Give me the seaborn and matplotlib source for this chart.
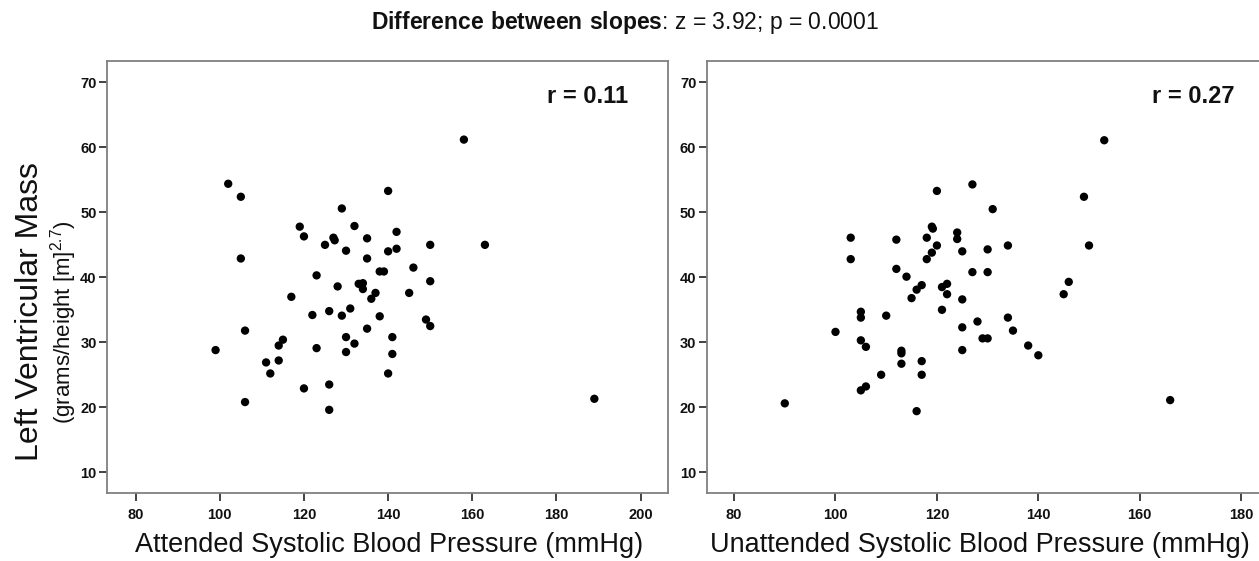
import matplotlib
matplotlib.use("Agg")
import matplotlib.pyplot as plt
import seaborn as sns
import pandas as pd

# Attended SBP vs LV mass index
attended_sbp = [102, 105, 105, 106, 99, 106, 117, 115, 114, 114,
                111, 112, 120, 119, 120, 123, 122, 123, 125, 127,
                127.3, 126, 126, 126, 128, 129, 130, 129, 130, 130,
                131, 132, 132, 133, 134, 134, 135, 135, 135, 136,
                137, 138, 139, 138, 140, 140, 140, 141, 141, 142,
                142, 150, 163, 146, 150, 145, 149, 150, 158, 189]
attended_lvm = [54.4, 52.4, 42.9, 31.8, 28.8, 20.8, 37.0, 30.4, 29.5, 27.2,
                26.9, 25.2, 22.9, 47.8, 46.3, 40.3, 34.2, 29.1, 45.0, 46.1,
                45.7, 34.8, 23.5, 19.6, 38.6, 50.6, 44.1, 34.1, 30.8, 28.5,
                35.2, 47.9, 29.8, 39.0, 39.1, 38.2, 46.0, 42.9, 32.1, 36.7,
                37.6, 40.9, 40.9, 34.0, 53.3, 44.0, 25.2, 30.8, 28.2, 47.0,
                44.4, 45.0, 45.0, 41.5, 39.4, 37.6, 33.5, 32.5, 61.2, 21.3]

# Unattended SBP vs LV mass index
unattended_sbp = [90, 100, 103, 103, 105, 105, 105, 106, 105, 106,
                  109, 110, 112, 112, 113, 113, 113, 114, 115, 116,
                  117, 117, 117, 116, 118, 118, 119, 119.2, 119, 120,
                  120, 121, 122, 122, 121, 124, 124, 125, 125, 125,
                  125, 127, 127, 128, 129, 130, 130, 130, 131, 134,
                  134, 135, 138, 140, 145, 146, 149, 150, 153, 166]
unattended_lvm = [20.6, 31.6, 46.1, 42.8, 34.7, 33.8, 30.3, 29.3, 22.6, 23.2,
                  25.0, 34.1, 45.8, 41.3, 28.7, 28.3, 26.7, 40.1, 36.8, 38.1,
                  38.8, 27.1, 25.0, 19.4, 46.1, 42.8, 47.8, 47.5, 43.8, 53.3,
                  44.9, 38.5, 39.0, 37.4, 35.0, 46.9, 45.9, 44.0, 36.6, 32.3,
                  28.8, 54.3, 40.8, 33.2, 30.6, 30.6, 44.3, 40.8, 50.5, 44.9,
                  33.8, 31.8, 29.5, 28.0, 37.4, 39.3, 52.4, 44.9, 61.1, 21.1]

r_values = ["r = 0.11", "r = 0.27"]
x_labels = ["Attended Systolic Blood Pressure (mmHg)",
            "Unattended Systolic Blood Pressure (mmHg)"]
x_ticks = [[80, 100, 120, 140, 160, 180, 200], [80, 100, 120, 140, 160, 180]]
y_ticks = [10, 20, 30, 40, 50, 60, 70]

sns.set_theme(style="ticks")
plt.rcParams['font.family'] = ['Liberation Sans', 'DejaVu Sans']
plt.rcParams['mathtext.fontset'] = 'custom'
plt.rcParams['mathtext.rm'] = 'Liberation Sans'
plt.rcParams['mathtext.bf'] = 'Liberation Sans:bold'
plt.rcParams['xtick.bottom'] = True
plt.rcParams['ytick.left'] = True
plt.rcParams['xtick.major.size'] = 6
plt.rcParams['ytick.major.size'] = 6
plt.rcParams['xtick.major.width'] = 1.2
plt.rcParams['ytick.major.width'] = 1.2
plt.rcParams['xtick.color'] = '#222222'
plt.rcParams['ytick.color'] = '#222222'

W, H = 1259, 561
fig = plt.figure(figsize=(W / 100, H / 100), dpi=100)
ax1 = fig.add_axes([107 / W, 68 / H, 561 / W, 432 / H])
ax2 = fig.add_axes([706.7 / W, 68 / H, (1266 - 706.7) / W, 432 / H])

df1 = pd.DataFrame({'sbp': attended_sbp, 'lvm': attended_lvm})
df2 = pd.DataFrame({'sbp': unattended_sbp, 'lvm': unattended_lvm})

xlims = [(73.2, 206.5), (74.6, 184.9)]
r_pos = [0.856, 0.8695]
xlabel_x = [389, 980]

for i, (ax, df) in enumerate([(ax1, df1), (ax2, df2)]):
    sns.scatterplot(data=df, x='sbp', y='lvm', ax=ax, color='black',
                    s=36, edgecolor='none', linewidth=0)
    ax.set_xlim(*xlims[i])
    ax.set_ylim(6.8, 73.3)
    ax.set_xticks(x_ticks[i])
    ax.set_yticks(y_ticks)
    ax.tick_params(axis='both', labelsize=10.5, pad=1.5, labelcolor='#111111')
    ax.tick_params(axis='x', pad=5)
    for lab in ax.get_xticklabels() + ax.get_yticklabels():
        lab.set_fontweight('bold')
    for sp in ax.spines.values():
        sp.set_visible(True)
        sp.set_color('#808080')
        sp.set_linewidth(1.3)
    ax.set_xlabel('')
    ax.set_ylabel('')
    ax.text(r_pos[i], 0.917, r_values[i], transform=ax.transAxes,
            ha='center', va='center', fontsize=17, fontweight='bold',
            color='#111111')
    fig.text(xlabel_x[i] / W, 1 - 545 / H, x_labels[i], ha='center',
             va='center', fontsize=19.5, color='#111111')

fig.text(30 / W, 1 - 312 / H, 'Left Ventricular Mass', rotation=90,
         ha='center', va='center', fontsize=23, color='#111111')
fig.text(64 / W, 1 - 322 / H, r'(grams/height [m]$^{2.7}$)', rotation=90,
         ha='center', va='center', fontsize=16, color='#111111')

fig.text(0.4965, 1 - 22 / H,
         r'$\bf{Difference\ between\ slopes}$: z = 3.92; p = 0.0001',
         ha='center', va='center', fontsize=16.5, color='#111111')

fig.savefig('out.png', dpi=100)
